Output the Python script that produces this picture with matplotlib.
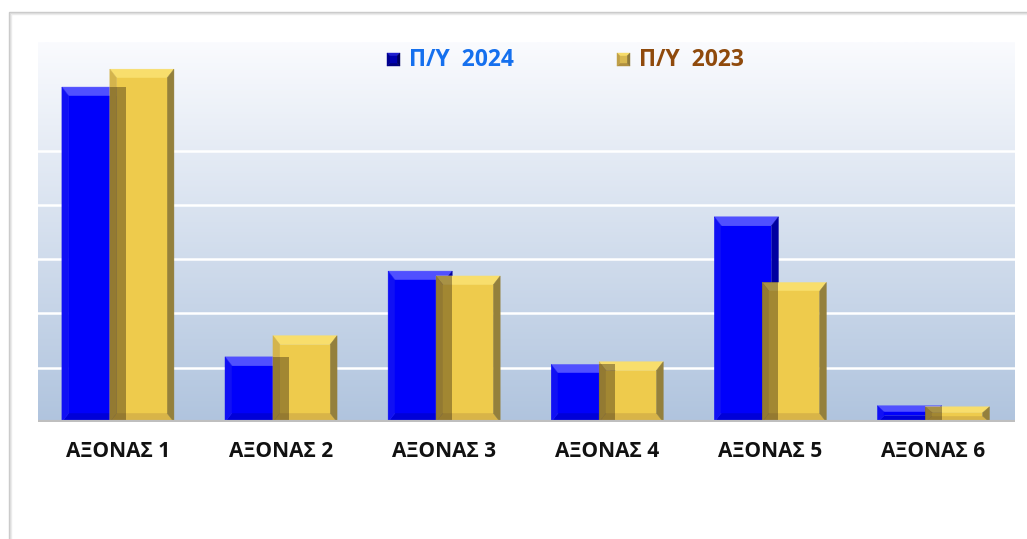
import matplotlib
matplotlib.use("Agg")
import matplotlib.pyplot as plt
import numpy as np
from matplotlib.patches import Polygon, Rectangle

plt.rcParams['font.family'] = ['Open Sans', 'DejaVu Sans']

categories = ["ΑΞΟΝΑΣ 1", "ΑΞΟΝΑΣ 2", "ΑΞΟΝΑΣ 3", "ΑΞΟΝΑΣ 4", "ΑΞΟΝΑΣ 5", "ΑΞΟΝΑΣ 6"]
values_2024 = [6.17, 1.20, 2.78, 1.06, 3.78, 0.30]
values_2023 = [6.50, 1.59, 2.69, 1.11, 2.57, 0.28]
series_names = ["Π/Υ  2024", "Π/Υ  2023"]

W, H = 1027, 539
fig = plt.figure(figsize=(W / 100, H / 100), dpi=100)
fig.patch.set_facecolor('white')

def fx(px):
    return px / W

def fy(py):
    return 1 - py / H

# outer frame (shadowed border)
for i, c in enumerate(['#c8c8c8', '#dadada', '#ebebeb']):
    fig.add_artist(Rectangle((fx(9 + i), fy(H + 5)), fx(W + 20), (H + 5 - 12 - i) / H,
                             transform=fig.transFigure, facecolor='none',
                             edgecolor=c, lw=1.0))

L, R, T, B = 38, 1015, 42, 422
ax = fig.add_axes([fx(L), fy(B), fx(R - L), (B - T) / H])
xmin, xmax, ymin, ymax = -0.49, 5.5, 0, 7.0
ax.set_xlim(xmin, xmax)
ax.set_ylim(ymin, ymax)

# gradient background
top = np.array([250, 251, 254]) / 255
bot = np.array([176, 196, 222]) / 255
t = np.linspace(0, 1, 256)[:, None]
grad = (top[None, :] * (1 - t) + bot[None, :] * t)[:, None, :]
ax.imshow(grad, extent=[xmin, xmax, ymin, ymax], aspect='auto', zorder=0,
          origin='upper', interpolation='bilinear')

for g in range(1, 6):
    ax.axhline(g, color='white', lw=1.8, zorder=1)

px_x = (R - L) / (xmax - xmin)
px_y = (B - T) / (ymax - ymin)

def bevel_bar(axis, xc, w, h, cols, bpx=7, bpy=9, z=3):
    face, topc, leftc, rightc, botc = cols
    x0, x1 = xc - w / 2, xc + w / 2
    bx = bpx / px_x
    by = min(bpy / px_y, h / 2.5)
    polys = [
        ([(x0, h), (x1, h), (x1 - bx, h - by), (x0 + bx, h - by)], topc),
        ([(x0, 0), (x1, 0), (x1 - bx, by), (x0 + bx, by)], botc),
        ([(x0, 0), (x0, h), (x0 + bx, h - by), (x0 + bx, by)], leftc),
        ([(x1, 0), (x1, h), (x1 - bx, h - by), (x1 - bx, by)], rightc),
        ([(x0 + bx, by), (x1 - bx, by), (x1 - bx, h - by), (x0 + bx, h - by)], face),
    ]
    for pts, c in polys:
        axis.add_patch(Polygon(pts, closed=True, facecolor=c, edgecolor=c, lw=0.3, zorder=z))

blue_cols = ('#0000fb', '#5050ff', '#1010f4', '#0000a0', '#0000d8')
gold_cols = ('#eecb4c', '#f8de6c', '#d4b44c', '#94803c', '#d8b448')

w = 0.393
off = 0.147
x = np.arange(len(categories))
for i in range(len(categories)):
    bevel_bar(ax, x[i] - off, w, values_2024[i], blue_cols, z=3)
    bevel_bar(ax, x[i] + off, w, values_2023[i], gold_cols, z=4)
    # overlap darkening
    ox0 = x[i] + off - w / 2
    ox1 = x[i] - off + w / 2
    oh = min(values_2024[i], values_2023[i])
    ax.add_patch(Rectangle((ox0, 0), ox1 - ox0, oh, facecolor='#3a2a10',
                           alpha=0.42, lw=0, zorder=5))

ax.axhline(0, color='#bfbfbf', lw=3, zorder=6)

ax.set_xticks(x)
ax.set_xticklabels(categories, fontsize=15, fontweight='bold', color='#111111')
ax.tick_params(axis='x', length=0, pad=14)
ax.set_yticks([])
for s in ax.spines.values():
    s.set_visible(False)

# legend
def legend_box(px0, py0, size, cols):
    face, topc, leftc, rightc, botc = cols
    x0, y0 = fx(px0), fy(py0 + size)
    x1, y1 = fx(px0 + size), fy(py0)
    b = 3
    bx, by = b / W, b / H
    polys = [
        ([(x0, y1), (x1, y1), (x1 - bx, y1 - by), (x0 + bx, y1 - by)], topc),
        ([(x0, y0), (x1, y0), (x1 - bx, y0 + by), (x0 + bx, y0 + by)], botc),
        ([(x0, y0), (x0, y1), (x0 + bx, y1 - by), (x0 + bx, y0 + by)], leftc),
        ([(x1, y0), (x1, y1), (x1 - bx, y1 - by), (x1 - bx, y0 + by)], rightc),
        ([(x0 + bx, y0 + by), (x1 - bx, y0 + by), (x1 - bx, y1 - by), (x0 + bx, y1 - by)], face),
    ]
    for pts, c in polys:
        fig.add_artist(Polygon(pts, closed=True, transform=fig.transFigure,
                               facecolor=c, edgecolor=c, lw=0.3, zorder=10))

legend_box(387, 53, 13, ('#0000b0', '#2020d0', '#000090', '#000060', '#000080'))
fig.text(fx(409), fy(60), series_names[0], fontsize=16.5, fontweight='bold',
         color='#1570ee', va='center', ha='left')
legend_box(617, 53, 13, ('#d8b850', '#f7dc6a', '#c0a048', '#8f7a3a', '#b09040'))
fig.text(fx(639), fy(60), series_names[1], fontsize=16.5, fontweight='bold',
         color='#8f4a0c', va='center', ha='left')

fig.savefig('out.png', dpi=100, facecolor='white')
